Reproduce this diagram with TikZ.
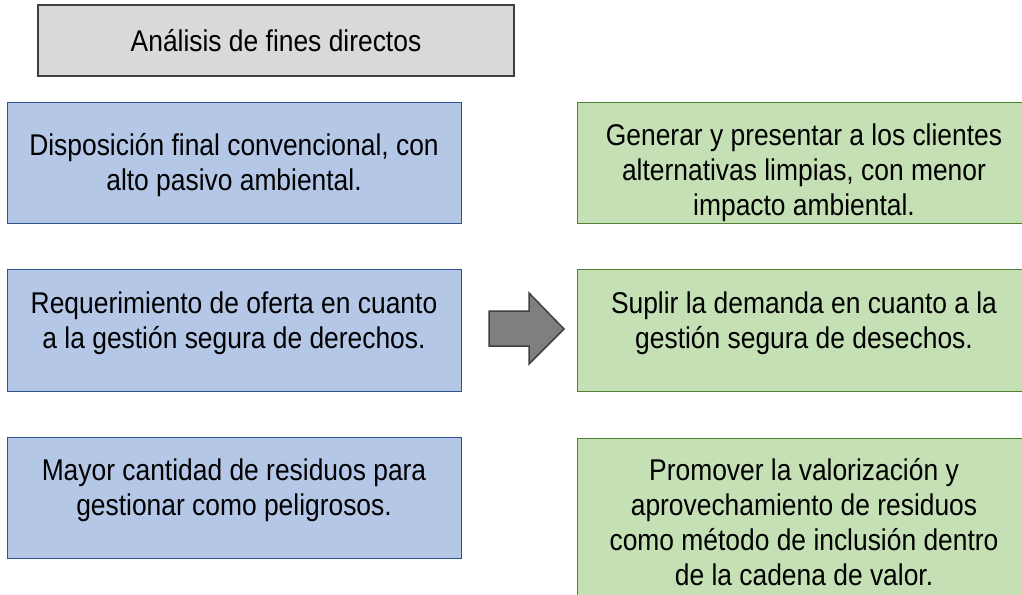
\documentclass[tikz,border=0pt]{standalone}
\usepackage{fontspec}
\setmainfont{Liberation Sans}[FakeStretch=0.88]
\definecolor{bluefill}{HTML}{B4C7E7}
\definecolor{blueline}{HTML}{2F528F}
\definecolor{greenfill}{HTML}{C5E0B4}
\definecolor{greenline}{HTML}{507E32}
\definecolor{grayfill}{HTML}{D9D9D9}
\definecolor{grayline}{HTML}{404040}
\definecolor{arrowfill}{HTML}{7F7F7F}
\newcommand{\boxtext}[4]{\parbox[t][#2pt][t]{#1pt}{\centering\rule{0pt}{#3pt}#4}}
\begin{document}
\begin{tikzpicture}[x=1pt,y=-1pt,
  every node/.style={inner sep=0pt, outer sep=0pt, anchor=north west,
    font=\fontsize{30}{35}\selectfont},
  bluebox/.style={draw=blueline, fill=bluefill, line width=1pt},
  greenbox/.style={draw=greenline, fill=greenfill, line width=1pt},
  titlebox/.style={draw=grayline, fill=grayfill, line width=2pt},
  blockarrow/.style={draw=grayline, fill=arrowfill, line width=1.5pt, line join=miter}]
\clip (0,0) rectangle (1022,594);
\useasboundingbox (0,0) rectangle (1022,594);
\fill[white] (0,0) rectangle (1022,594);

\node[titlebox] (title) at (38,5) {\boxtext{476}{71}{47}{Análisis de fines directos}};

\node[bluebox] (b1) at (7,102) {\boxtext{454}{121}{53}{Disposición final convencional, con\\alto pasivo ambiental.}};
\node[bluebox] (b2) at (7,269) {\boxtext{454}{122}{44}{Requerimiento de oferta en cuanto\\a la gestión segura de derechos.}};
\node[bluebox] (b3) at (7,437) {\boxtext{454}{121}{43}{Mayor cantidad de residuos para\\gestionar como peligrosos.}};

\node[greenbox] (g1) at (577,102) {\boxtext{454}{121}{43}{Generar y presentar a los clientes\\alternativas limpias, con menor\\impacto ambiental.}};
\node[greenbox] (g2) at (577,269) {\boxtext{454}{122}{44}{Suplir la demanda en cuanto a la\\gestión segura de desechos.}};
\node[greenbox] (g3) at (577,438) {\boxtext{454}{180}{42}{Promover la valorización y\\aprovechamiento de residuos\\como método de inclusión dentro\\de la cadena de valor.}};

\draw[blockarrow] (489,311) -- (529,311) -- (529,293) -- (564,329) -- (529,364) -- (529,346) -- (489,346) -- cycle;
\end{tikzpicture}
\end{document}
